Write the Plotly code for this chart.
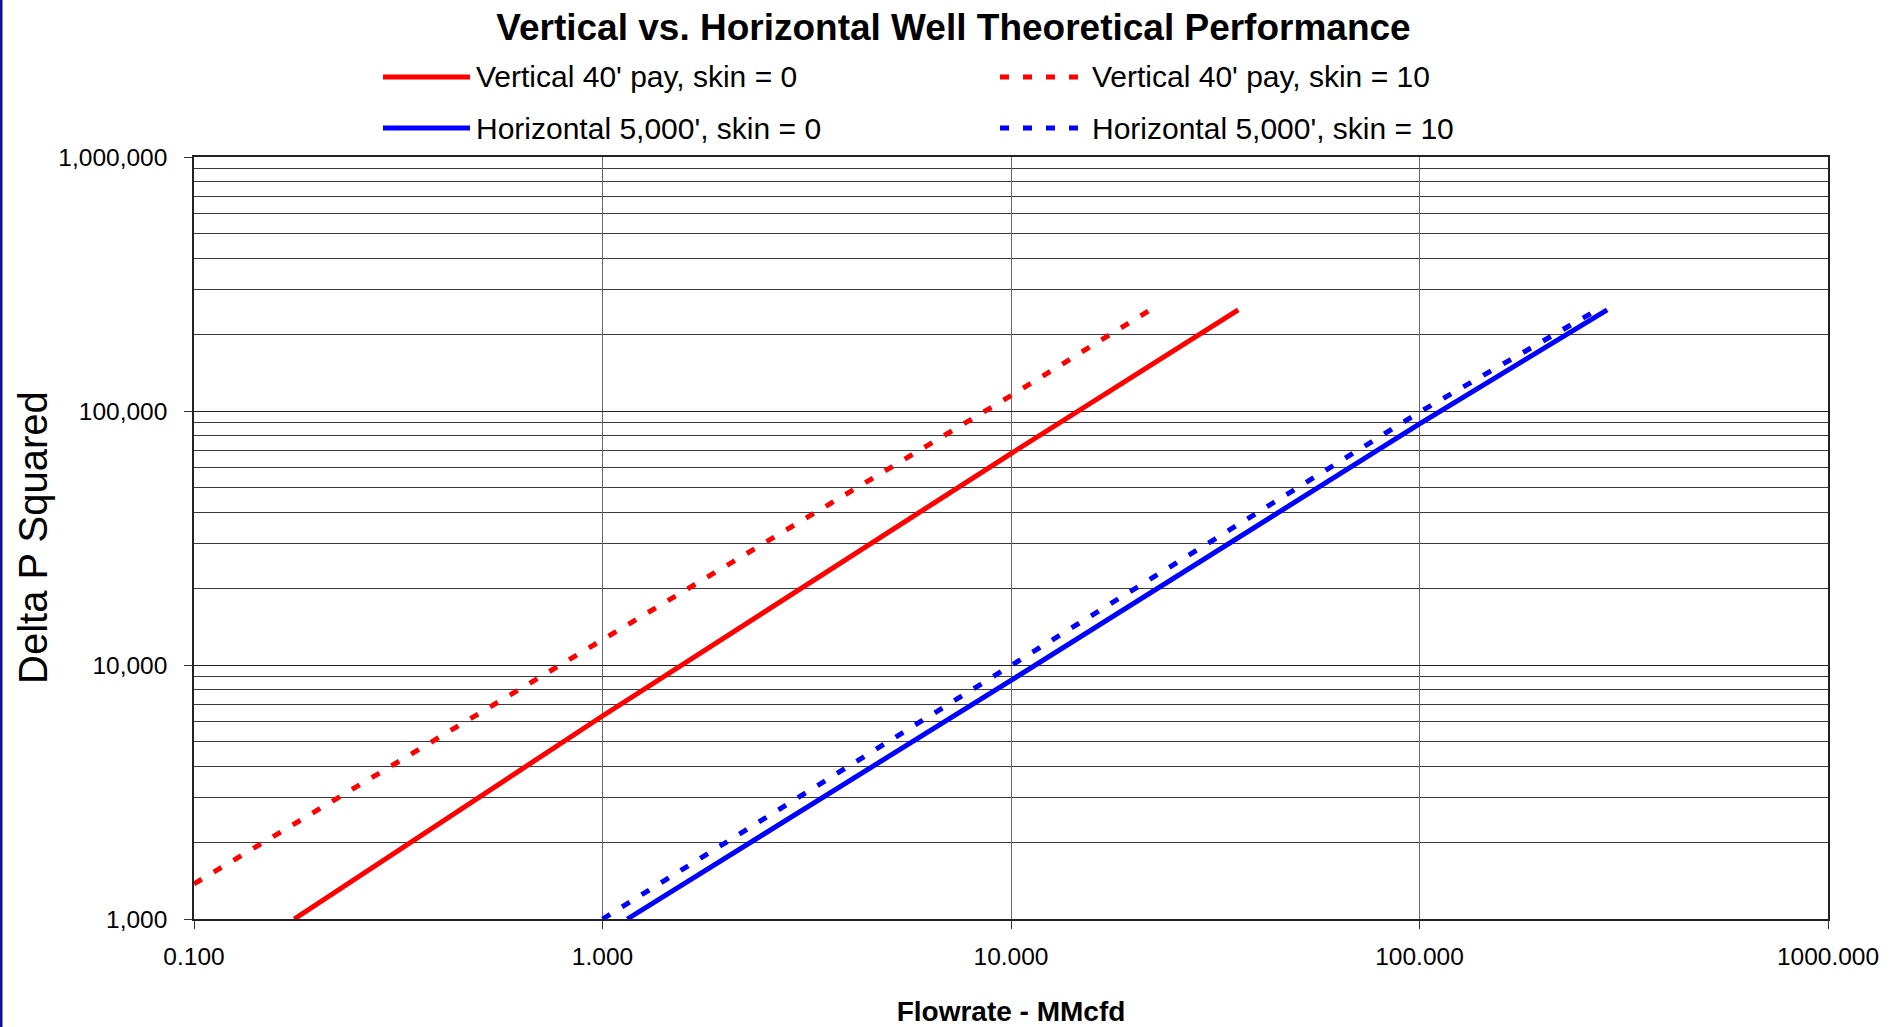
import plotly.graph_objects as go

# ---- data: flowrate (MMcfd) vs delta P squared ----
vert_s0_q = [0.176, 1.0, 10.0, 36.0]
vert_s0_dp2 = [1000, 6300, 68000, 250000]

vert_s10_q = [0.100, 1.0, 10.0, 21.9]
vert_s10_dp2 = [1375, 12500, 115000, 250000]

horiz_s0_q = [1.15, 10.0, 100.0, 288.0]
horiz_s0_dp2 = [1000, 8700, 89000, 250000]

horiz_s10_q = [1.0, 10.0, 100.0, 272.0]
horiz_s10_dp2 = [1000, 10000, 99000, 250000]

series_names = [
    "Vertical 40' pay, skin = 0",
    "Vertical 40' pay, skin = 10",
    "Horizontal 5,000', skin = 0",
    "Horizontal 5,000', skin = 10",
]

FONT = "Arial, 'Liberation Sans', Helvetica, sans-serif"
W, H = 1899, 1027
ML, MR, MT, MB = 194, 71, 157, 108
PW, PH = W - ML - MR, H - MT - MB
DOT = "9px,14px"


def px_x(p):
    """pixel column -> paper x"""
    return (p - ML) / PW


def px_y(p):
    """pixel row (from top) -> paper y"""
    return (H - MB - p) / PH


series = [
    (vert_s0_q, vert_s0_dp2, "#FF0000", "solid"),
    (vert_s10_q, vert_s10_dp2, "#FF0000", DOT),
    (horiz_s0_q, horiz_s0_dp2, "#0000FF", "solid"),
    (horiz_s10_q, horiz_s10_dp2, "#0000FF", DOT),
]

fig = go.Figure()
for (q, dp2, color, dash), name in zip(series, series_names):
    fig.add_trace(go.Scatter(
        x=q, y=dp2, mode="lines", name=name, showlegend=False,
        line=dict(color=color, width=5, dash=dash),
    ))

# ---- legend drawn as sample lines + labels, two columns ----
shapes = []
annotations = []
legend_slots = [(383, 470, 474, 77), (1000, 1078, 1090, 77),
                (383, 470, 474, 128), (1000, 1078, 1090, 128)]
for (q, dp2, color, dash), name, (lx0, lx1, tx, ty) in zip(series, series_names, legend_slots):
    shapes.append(dict(type="line", xref="paper", yref="paper",
                       x0=px_x(lx0), x1=px_x(lx1), y0=px_y(ty), y1=px_y(ty),
                       line=dict(color=color, width=5, dash=dash)))
    annotations.append(dict(text=name, xref="paper", yref="paper",
                            x=px_x(tx), y=px_y(ty), xanchor="left", yanchor="middle",
                            showarrow=False, font=dict(family=FONT, size=30, color="black")))

# y-axis title, rotated
annotations.append(dict(text="Delta P Squared", xref="paper", yref="paper",
                        x=px_x(33), y=0.5, xanchor="center", yanchor="middle",
                        textangle=-90, showarrow=False,
                        font=dict(family=FONT, size=40, color="black")))

# navy page edge on the left
shapes.append(dict(type="rect", xref="paper", yref="paper",
                   x0=px_x(0), x1=px_x(2.5), y0=px_y(H), y1=px_y(0),
                   line=dict(width=0), fillcolor="#10109A", layer="above"))

fig.update_layout(
    width=W, height=H,
    margin=dict(l=ML, r=MR, t=MT, b=MB, pad=0, autoexpand=False),
    paper_bgcolor="white", plot_bgcolor="white",
    font=dict(family=FONT, color="black"),
    title=dict(text="Vertical vs. Horizontal Well Theoretical Performance",
               font=dict(family=FONT, size=37, color="black", weight="bold"),
               x=(W / 2 + 4) / W, xref="container", xanchor="center",
               y=1 - 27 / H, yref="container", yanchor="middle"),
    shapes=shapes,
    annotations=annotations,
    showlegend=False,
)

fig.update_xaxes(
    type="log", range=[-1, 3], dtick=1, tickformat=".3f",
    automargin=False,
    showgrid=True, gridcolor="#6a6a6a", gridwidth=1,
    ticks="outside", ticklen=8, tickcolor="#333", tickwidth=1,
    showline=True, linecolor="#222", linewidth=1.5, mirror=True,
    tickfont=dict(family=FONT, size=24.5, color="black"),
    ticklabelstandoff=7,
    title=dict(text="Flowrate - MMcfd", standoff=34,
               font=dict(family=FONT, size=28, color="black", weight="bold")),
)

fig.update_yaxes(
    type="log", range=[3, 6], dtick=1, tickformat=",d",
    automargin=False,
    showgrid=True, gridcolor="#222", gridwidth=1,
    minor=dict(dtick="D1", showgrid=True, gridcolor="#3a3a3a", gridwidth=1, ticks=""),
    ticks="outside", ticklen=8, tickcolor="#333", tickwidth=1,
    showline=True, linecolor="#222", linewidth=1.5, mirror=True,
    tickfont=dict(family=FONT, size=24.5, color="black"),
    ticklabelstandoff=12,
)

fig.write_html("out.html")
